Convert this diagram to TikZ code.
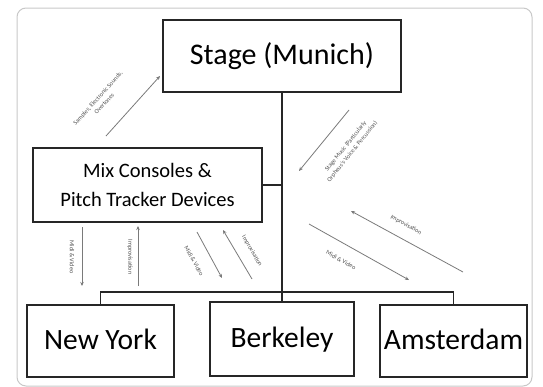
\documentclass[tikz,border=0pt]{standalone}
\usepackage{fontspec}
\setmainfont{Carlito}
\usetikzlibrary{arrows.meta}
\definecolor{framegray}{HTML}{C8C8C8}
\definecolor{arrgray}{HTML}{7A7A7A}
\definecolor{lblgray}{HTML}{505050}
\tikzset{
  box/.style={draw=black!85, line width=1.3pt, inner sep=0pt, align=center},
  city/.style={box, minimum width=147pt, minimum height=72pt, font=\fontsize{29.5}{34}\selectfont, text height=18pt, text depth=2pt},
  link/.style={draw=black!85, line width=1.1pt},
  flow/.style={draw=arrgray, line width=0.8pt, -{Stealth[length=4pt,width=3.5pt]}},
  lbl/.style={text=lblgray, font=\fontsize{6.2}{8.5}\selectfont, align=center, inner sep=0pt},
}
\begin{document}
\begin{tikzpicture}[x=1pt,y=-1pt]
\useasboundingbox (0,0) rectangle (543,386);
\begin{scope}
\clip (0,0) rectangle (543,386);
\draw[framegray, line width=1pt, rounded corners=9pt] (17,8) rectangle (532,386);
\end{scope}

\node[box, minimum width=238pt, minimum height=72pt, font=\fontsize{30}{34}\selectfont] (stage) at (282,56) {Stage (Munich)};
\node[box, minimum width=229pt, minimum height=74pt, font=\fontsize{20.5}{29}\selectfont] (mix) at (147.5,185) {Mix Consoles \&\\Pitch Tracker Devices};
\node[city] (ny) at (100.5,341) {New York};
\node[city, minimum width=144pt, minimum height=74pt] (bk) at (282,339) {Berkeley};
\node[city] (am) at (453.5,341) {Amsterdam};

\coordinate (jmix) at (282,185);
\coordinate (jl) at (100.5,292);
\coordinate (jr) at (453.5,292);
\draw[link] (stage.south) -- (bk.north);
\draw[link] (mix.east) -- (jmix);
\draw[link] (ny.north) -- (jl) -- (jr) -- (am.north);

% Samples arrow
\coordinate (a1s) at (106,136); \coordinate (a1e) at (160,76);
\draw[flow] (a1s) -- (a1e);
\node[lbl, rotate=48] (l1) at (101,101) {Samples, Electronic Sounds,\\Overtones};

% Stage music arrow
\coordinate (a2s) at (349,110); \coordinate (a2e) at (299,171);
\draw[flow] (a2s) -- (a2e);
\node[lbl, rotate=51] (l2) at (349,149) {Stage Music (Particularly\\Orpheus's Voice \& Percussion)};

% right improvisation
\coordinate (a3s) at (463,272); \coordinate (a3e) at (351,211);
\draw[flow] (a3s) -- (a3e);
\node[lbl, rotate=-29] (l3) at (406,225) {Improvisation};

% right midi
\coordinate (a4s) at (309,224); \coordinate (a4e) at (409,280);
\draw[flow] (a4s) -- (a4e);
\node[lbl, rotate=-29] (l4) at (341,260) {Midi \& Video};

% left vertical
\coordinate (a5s) at (82,227); \coordinate (a5e) at (82,286);
\draw[flow] (a5s) -- (a5e);
\node[lbl, rotate=-90] (l5) at (72,257) {Midi \& Video};
\coordinate (a6s) at (138,286); \coordinate (a6e) at (138,226);
\draw[flow] (a6s) -- (a6e);
\node[lbl, rotate=-90] (l6) at (130,257) {Improvisation};

% middle diagonals
\coordinate (a7s) at (197,232); \coordinate (a7e) at (222,278);
\draw[flow] (a7s) -- (a7e);
\node[lbl, rotate=-61] (l7) at (194,261) {Midi \& Video};
\coordinate (a8s) at (252,279); \coordinate (a8e) at (223,230);
\draw[flow] (a8s) -- (a8e);
\node[lbl, rotate=-60] (l8) at (252,251) {Improvisation};
\end{tikzpicture}
\end{document}
